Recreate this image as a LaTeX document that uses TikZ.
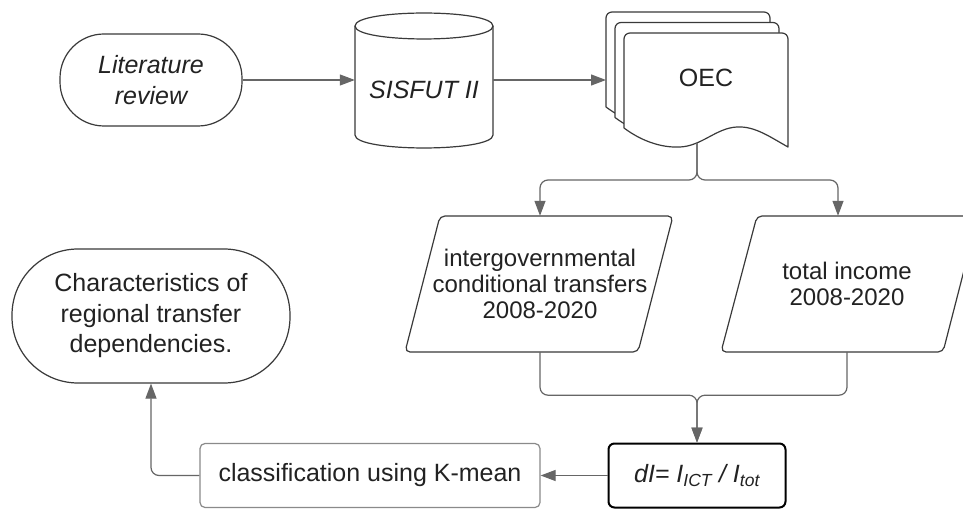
\documentclass[tikz,border=0pt]{standalone}
\usepackage{fontspec}
\setmainfont{Liberation Sans}
\usetikzlibrary{arrows.meta}
\definecolor{edge}{HTML}{3A3A3A}
\definecolor{wire}{HTML}{666666}
\definecolor{soft}{HTML}{8A8A8A}
\definecolor{ink}{HTML}{222222}
\begin{document}
\begin{tikzpicture}[x=1pt, y=-1pt, line join=round,
  outline/.style={draw=edge, line width=1.2pt, fill=white},
  conn/.style={draw=wire, line width=1.2pt, rounded corners=8pt,
    -{Triangle[length=15pt,width=11pt]}},
  lbl/.style={text=ink, align=center, inner sep=0pt,
    font=\fontsize{25}{30.5}\selectfont},
  lblit/.style={lbl, font=\fontsize{25}{30.5}\selectfont\itshape},
  lblsm/.style={lbl, font=\fontsize{24}{26}\selectfont},
  stadium/.style={outline, lbl}
]
\useasboundingbox (0,0) rectangle (963,510);
\clip (0,0) rectangle (963,510);
\fill[white] (0,0) rectangle (963,510);

% start terminal
\node[stadium, lblit, rounded corners=44pt, minimum width=182pt, minimum height=92pt] (lit) at (151,80) {Literature\\review};

% database cylinder
\filldraw[outline] (355,26) -- (355,135) .. controls (355,152.3) and (493,152.3) .. (493,135)
  -- (493,26) .. controls (493,8.7) and (355,8.7) .. (355,26) -- cycle;
\draw[outline, fill=none] (355,26) .. controls (355,43.3) and (493,43.3) .. (493,26);
\node[lblit, minimum width=138pt] (sis) at (424,90) {SISFUT II};

% stack of documents
\foreach \dx/\dy in {-18/-21, -9/-10.5, 0/0} {
  \filldraw[outline, shift={(\dx,\dy)}] (624,128) [rounded corners=6pt] -- (624,33) -- (788,33) [sharp corners] -- (788,147)
    .. controls (770,137) and (755,126) .. (737,127)
    .. controls (716,128) and (702,146) .. (680,147)
    .. controls (660,148) and (640,140) .. (624,128) -- cycle;
}
\node[lbl] (oec) at (706,78) {OEC};
\coordinate (oecin) at (606,80);
\coordinate (oecout) at (697,143);

% input parallelograms
\filldraw[outline, rounded corners=5pt] (440,216) -- (673,216) -- (638,352) -- (405,352) -- cycle;
\filldraw[outline, rounded corners=5pt] (757,216) -- (978,216) -- (943,352) -- (721,352) -- cycle;
\node[lblsm, minimum height=136pt] (p1) at (540,284) {intergovernmental\\conditional transfers\\2008-2020};
\node[lblsm, minimum height=136pt] (p2) at (847,284) {total income\\2008-2020};

% process boxes
\node[lbl, draw=black, line width=2pt, fill=white, rounded corners=6pt,
  minimum width=177pt, minimum height=64pt] (di) at (697,475.5)
  {\itshape dI= I\textsubscript{ICT} / I\textsubscript{tot}};
\node[lbl, draw=soft, line width=1.2pt, fill=white, rounded corners=5pt,
  minimum width=340pt, minimum height=64pt] (cls) at (370,475.5) {classification using K-mean};

% end terminal
\node[stadium, rounded corners=66pt, minimum width=278pt, minimum height=134pt] (char) at (151,316)
  {Characteristics of\\regional transfer\\dependencies.};

% connectors
\draw[conn] (lit.east) -- (lit.east -| sis.west);
\draw[conn] (sis.east |- oecin) -- (oecin);
\draw[conn] (oecout) -- ++(0,37) -| (p1.north);
\draw[conn] (oecout) -- ++(0,37) -| ([xshift=-9pt]p2.north);
\draw[conn] (p1.south) -- ++(0,43) -| (di.north);
\draw[conn] (p2.south) -- ++(0,43) -| (di.north);
\draw[conn] (di.west) -- (cls.east);
\draw[conn] (cls.west) -| (char.south);
\end{tikzpicture}
\end{document}
